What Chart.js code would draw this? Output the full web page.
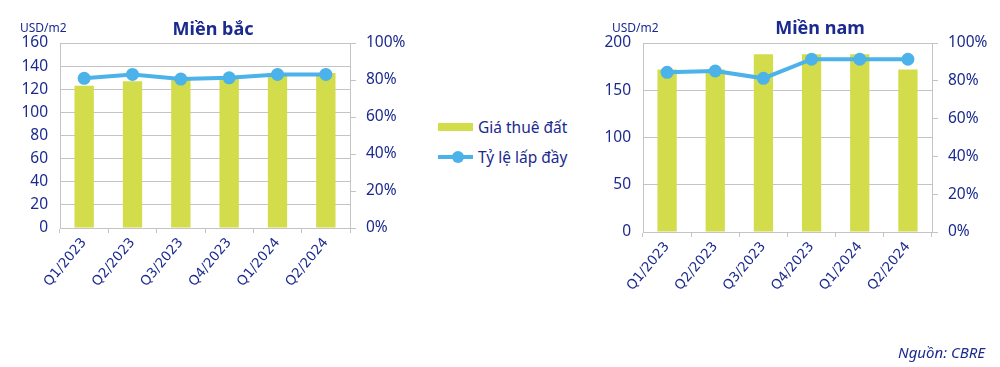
<!DOCTYPE html>
<html>
<head>
<meta charset="utf-8">
<script src="https://cdn.jsdelivr.net/npm/chart.js@4"></script>
<style>
  body { margin: 0; background: #fff; width: 1000px; height: 367px; position: relative; overflow: hidden; font-family: "Noto Sans", sans-serif; color: #1b2a8f; }
  .box { position: absolute; top: 0; width: 420px; height: 367px; }
  .txt { position: absolute; white-space: nowrap; transform: translate(-50%, -50%); }
  .title { font-weight: bold; font-size: 18px; }
  .unit { font-size: 12px; transform: translateY(-50%); }
  .legend { position: absolute; left: 438px; top: 112px; font-size: 15.5px; }
  .legend div { position: relative; height: 30px; line-height: 30px; padding-left: 40px; }
  .sw-bar { position: absolute; left: 0; top: 11px; width: 35px; height: 8px; background: #d3dc4a; }
  .sw-line { position: absolute; left: 0; top: 13px; width: 35px; height: 4px; background: #4cb2ea; }
  .sw-dot { position: absolute; left: 14px; top: 9px; width: 12px; height: 12px; border-radius: 50%; background: #4cb2ea; }
  .src { position: absolute; right: 15px; top: 342px; font-size: 15px; font-style: italic; }
</style>
</head>
<body>
<div class="box" style="left:0"><canvas id="north"></canvas></div>
<div class="box" style="left:580px"><canvas id="south"></canvas></div>

<div class="txt title" style="left:213px; top:28px">Miền bắc</div>
<div class="txt unit" style="left:20px; top:27px">USD/m2</div>
<div class="txt title" style="left:820px; top:27px">Miền nam</div>
<div class="txt unit" style="left:612px; top:27px">USD/m2</div>

<div class="legend">
  <div><span class="sw-bar"></span>Giá thuê đất</div>
  <div><span class="sw-line"></span><span class="sw-dot"></span>Tỷ lệ lấp đầy</div>
</div>
<div class="src">Nguồn: CBRE</div>

<script>
const quarters = ['Q1/2023', 'Q2/2023', 'Q3/2023', 'Q4/2023', 'Q1/2024', 'Q2/2024'];

const northRent = [123, 127, 130, 131, 133, 134];
const northOccupancy = [80.9, 83, 80.5, 81.2, 83, 83];

const southRent = [172, 172, 188, 188, 188, 172];
const southOccupancy = [84.5, 85.2, 81.3, 91.4, 91.4, 91.4];

const navy = '#1b2a8f';
const barColor = '#d3dc4a';
const lineColor = '#4cb2ea';
const gridColor = '#c4c4c4';

function buildChart(canvasId, rent, occupancy, cfg) {
  const ctx = document.getElementById(canvasId).getContext('2d');
  return new Chart(ctx, {
    data: {
      labels: quarters,
      datasets: [
        {
          type: 'line',
          label: 'Tỷ lệ lấp đầy',
          data: occupancy,
          yAxisID: 'y1',
          borderColor: lineColor,
          backgroundColor: lineColor,
          borderWidth: 4,
          pointRadius: 6.5,
          pointBorderWidth: 0,
          tension: 0,
          order: 0,
        },
        {
          type: 'bar',
          label: 'Giá thuê đất',
          data: rent,
          yAxisID: 'y',
          backgroundColor: barColor,
          categoryPercentage: 1,
          barPercentage: 0.4,
          order: 1,
        },
      ],
    },
    options: {
      animation: false,
      responsive: true,
      maintainAspectRatio: false,
      layout: { padding: { top: 43, left: 0, right: 0, bottom: 0 } },
      plugins: { legend: { display: false }, title: { display: false }, tooltip: { enabled: false } },
      scales: {
        x: {
          offset: true,
          grid: { offset: true, drawOnChartArea: false, color: gridColor, tickLength: 5 },
          border: { color: gridColor },
          ticks: {
            color: navy,
            font: { family: 'DejaVu Sans', size: 13.5 },
            minRotation: 50,
            maxRotation: 50,
            padding: 2,
          },
          afterFit: (scale) => { scale.height = cfg.xHeight; },
        },
        y: {
          position: 'left',
          min: 0,
          max: cfg.max,
          grid: { color: gridColor, drawTicks: false },
          border: { color: gridColor },
          ticks: {
            stepSize: cfg.step,
            color: navy,
            padding: 12,
            font: { family: 'Noto Sans', size: 15.5 },
          },
          afterFit: (scale) => { scale.width = cfg.yWidth; },
        },
        y1: {
          position: 'right',
          min: 0,
          max: 100,
          grid: { drawOnChartArea: false, color: gridColor, tickLength: 6 },
          border: { color: gridColor },
          ticks: {
            stepSize: 20,
            color: navy,
            padding: 10,
            font: { family: 'Noto Sans', size: 15.5 },
            callback: (v) => v + '%',
          },
          afterFit: (scale) => { scale.width = cfg.y1Width; },
        },
      },
    },
  });
}

buildChart('north', northRent, northOccupancy, { max: 160, step: 20, xHeight: 139, yWidth: 60, y1Width: 70 });
buildChart('south', southRent, southOccupancy, { max: 200, step: 50, xHeight: 135, yWidth: 63, y1Width: 68 });
</script>
</body>
</html>
